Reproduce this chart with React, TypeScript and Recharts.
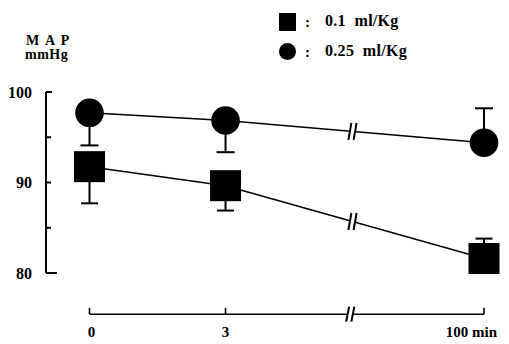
import React from "react";
import { LineChart, Line, XAxis, YAxis, ErrorBar, ReferenceLine, ReferenceDot } from "recharts";

// ---- data ----
const timeLabels = ["0", "3", "100 min"];
const axisPositions = [0, 3, 8.7]; // position of each time point on the (broken) drawn time axis
const dose01Map = [91.75, 89.65, 81.6];
const dose01Err = [[4.05, 0], [2.75, 0], [0, 2.2]];
const dose025Map = [97.7, 96.85, 94.4];
const dose025Err = [[3.6, 0], [3.5, 0], [0, 3.8]];
const yTicks = [80, 85, 90, 95, 100];
const yLabelled = [80, 90, 100];
const legendLabels = ["0.1  ml/Kg", "0.25  ml/Kg"];

// ---- layout constants ----
const LINE_BREAK_POS = 5.8;
const AXIS_BREAK_POS = 5.75;
const TIME_AXIS_LEVEL = 75.45; // detached time axis drawn below the value range
const FONT = "'Liberation Serif', 'Times New Roman', serif";

const rows = axisPositions.map((p, i) => ({
  pos: p,
  low: dose01Map[i],
  lowErr: dose01Err[i],
  high: dose025Map[i],
  highErr: dose025Err[i],
}));

function interpAt(series: number[], pos: number): number {
  for (let i = 0; i < axisPositions.length - 1; i++) {
    const a = axisPositions[i];
    const b = axisPositions[i + 1];
    if (pos >= a && pos <= b) {
      return series[i] + ((pos - a) / (b - a)) * (series[i + 1] - series[i]);
    }
  }
  return series[series.length - 1];
}

const renderYTick = (props: any) => {
  const { x, y, payload } = props;
  const v = payload.value;
  const ax = x + 14;
  const len = v === 80 ? 11 : v === 100 ? 6 : 5;
  return (
    <g>
      <line x1={ax} y1={y} x2={ax + len} y2={y} stroke="#000" strokeWidth={2} />
      {yLabelled.includes(v) && (
        <text x={x} y={y} dy="0.35em" textAnchor="end" fontFamily={FONT} fontWeight="bold" fontSize={16} fill="#000">
          {v}
        </text>
      )}
    </g>
  );
};

const renderXTick = (props: any) => {
  const { x, y, payload } = props;
  const i = axisPositions.indexOf(payload.value);
  const last = i === axisPositions.length - 1;
  return (
    <text
      x={last ? x + 13 : x + (i === 0 ? 2 : 0)}
      y={y}
      dy="0.71em"
      textAnchor={last ? "end" : "middle"}
      fontFamily={FONT}
      fontWeight="bold"
      fontSize={15}
      fill="#000"
    >
      {timeLabels[i] ?? ""}
    </text>
  );
};

const circleDot = (props: any) => {
  const { cx, cy, index } = props;
  return <circle key={"c" + index} cx={cx} cy={cy} r={14.3} fill="#000" />;
};

const squareDot = (props: any) => {
  const { cx, cy, index } = props;
  return <rect key={"s" + index} x={cx - 15.5} y={cy - 15.5} width={31} height={31} fill="#000" />;
};

const breakMark = (h: number) => (props: any) => {
  const { cx, cy } = props;
  const half = h / 2;
  const gap = 2.6;
  return (
    <g>
      <polygon
        points={`${cx - gap + 1.5},${cy - 3} ${cx + gap + 1.5},${cy - 3} ${cx + gap - 1.5},${cy + 3} ${cx - gap - 1.5},${cy + 3}`}
        fill="#fff"
      />
      <line x1={cx - gap + 1.5} y1={cy - half} x2={cx - gap - 1.5} y2={cy + half} stroke="#000" strokeWidth={2} />
      <line x1={cx + gap + 1.5} y1={cy - half} x2={cx + gap - 1.5} y2={cy + half} stroke="#000" strokeWidth={2} />
    </g>
  );
};

const textStyle: React.CSSProperties = {
  position: "absolute",
  fontFamily: FONT,
  fontWeight: "bold",
  color: "#000",
  whiteSpace: "pre",
};

export default function App() {
  return (
    <div style={{ position: "absolute", left: 0, top: 0, width: 509, height: 344, background: "#fff" }}>
      <LineChart width={509} height={344} data={rows} margin={{ top: 92, right: 4, bottom: 0, left: 0 }}>
        <XAxis
          type="number"
          dataKey="pos"
          domain={[0, 8.7]}
          ticks={axisPositions}
          interval={0}
          padding={{ left: 43.5, right: 21 }}
          axisLine={false}
          tickLine={false}
          tickSize={0}
          tickMargin={53}
          height={71}
          tick={renderXTick}
        />
        <YAxis
          type="number"
          domain={[80, 100]}
          ticks={yTicks}
          interval={0}
          width={46}
          axisLine={{ stroke: "#000", strokeWidth: 2 }}
          tickLine={false}
          tickSize={0}
          tickMargin={14}
          tick={renderYTick}
        />
        {/* detached, broken time axis */}
        <ReferenceLine
          segment={[
            { x: axisPositions[0], y: TIME_AXIS_LEVEL },
            { x: axisPositions[axisPositions.length - 1], y: TIME_AXIS_LEVEL },
          ]}
          stroke="#000"
          strokeWidth={1.6}
          ifOverflow="visible"
        />
        {axisPositions.map((p) => (
          <ReferenceLine
            key={"t" + p}
            segment={[
              { x: p, y: TIME_AXIS_LEVEL },
              { x: p, y: TIME_AXIS_LEVEL + 0.7 },
            ]}
            stroke="#000"
            strokeWidth={1.6}
            ifOverflow="visible"
          />
        ))}
        <ReferenceDot x={AXIS_BREAK_POS} y={TIME_AXIS_LEVEL} ifOverflow="visible" shape={breakMark(15)} />

        <Line
          type="linear"
          dataKey="high"
          stroke="#000"
          strokeWidth={1.5}
          dot={circleDot}
          activeDot={false}
          isAnimationActive={false}
        >
          <ErrorBar dataKey="highErr" direction="y" width={9} stroke="#000" strokeWidth={2} isAnimationActive={false} />
        </Line>
        <Line
          type="linear"
          dataKey="low"
          stroke="#000"
          strokeWidth={1.5}
          dot={squareDot}
          activeDot={false}
          isAnimationActive={false}
        >
          <ErrorBar dataKey="lowErr" direction="y" width={8.5} stroke="#000" strokeWidth={2} isAnimationActive={false} />
        </Line>
        <ReferenceDot x={LINE_BREAK_POS} y={interpAt(dose025Map, LINE_BREAK_POS)} ifOverflow="visible" shape={breakMark(17)} />
        <ReferenceDot x={LINE_BREAK_POS} y={interpAt(dose01Map, LINE_BREAK_POS)} ifOverflow="visible" shape={breakMark(17)} />
      </LineChart>

      {/* axis title */}
      <div style={{ ...textStyle, left: 26, top: 33, fontSize: 14, lineHeight: "16px", letterSpacing: "1.5px" }}>M A P</div>
      <div style={{ ...textStyle, left: 25, top: 47, fontSize: 14, lineHeight: "16px", letterSpacing: "0.5px" }}>mmHg</div>

      {/* legend */}
      <div style={{ position: "absolute", left: 279, top: 13, width: 17, height: 18, background: "#000" }} />
      <div style={{ ...textStyle, left: 305, top: 13, fontSize: 15, lineHeight: "18px" }}>:</div>
      <div style={{ ...textStyle, left: 325, top: 12, fontSize: 16, lineHeight: "18px", letterSpacing: "0.3px" }}>{legendLabels[0]}</div>
      <div style={{ position: "absolute", left: 279, top: 43, width: 17, height: 17, borderRadius: "50%", background: "#000" }} />
      <div style={{ ...textStyle, left: 305, top: 43, fontSize: 15, lineHeight: "18px" }}>:</div>
      <div style={{ ...textStyle, left: 325, top: 42, fontSize: 16, lineHeight: "18px", letterSpacing: "0.3px" }}>{legendLabels[1]}</div>
    </div>
  );
}
